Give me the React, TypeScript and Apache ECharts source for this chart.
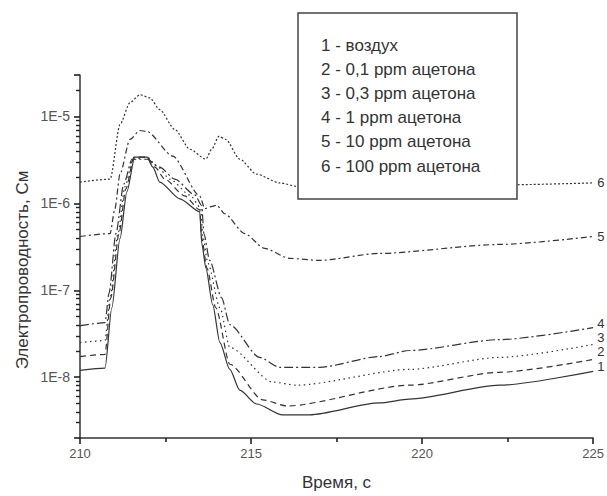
import React, { useEffect, useRef } from 'react';
import * as echarts from 'echarts';

const X_MIN = 210;
const X_MAX = 225;
const X_STEP = 5;
const Y_MIN = 2e-9;
const Y_MAX = 3e-5;

const xAxisTitle = 'Время, с';
const yAxisTitle = 'Электропроводность, См';

const xTickLabels = ['210', '215', '220', '225'];
const yTickExponents = [-8, -7, -6, -5];
const yTickLabels = ['1E-8', '1E-7', '1E-6', '1E-5'];

const curveNames = ['1', '2', '3', '4', '5', '6'];
const legendLabels = [
  '1 - воздух',
  '2 - 0,1 ppm ацетона',
  '3 - 0,3 ppm ацетона',
  '4 - 1 ppm ацетона',
  '5 - 10 ppm ацетона',
  '6 - 100 ppm ацетона',
];

// [time, conductance]
const curve1 = [
  [210.0, 1.2e-8], [210.73, 1.27e-8], [210.93, 6.3e-8], [211.17, 3.95e-7], [211.37, 1.36e-6],
  [211.6, 3.4e-6], [211.96, 3.4e-6], [212.13, 2.61e-6], [212.33, 1.76e-6], [212.92, 1.13e-6],
  [213.5, 8.0e-7], [213.56, 3.46e-7], [213.68, 1.8e-7], [213.88, 6.8e-8], [214.09, 2.5e-8],
  [214.38, 1.23e-8], [214.67, 7.1e-9], [215.16, 4.92e-9], [215.92, 3.69e-9], [216.71, 3.69e-9],
  [218.75, 5.06e-9], [219.63, 5.6e-9], [222.26, 8.1e-9], [225.0, 1.17e-8],
];
const curve2 = [
  [210.0, 1.73e-8], [210.73, 1.83e-8], [210.9, 8.2e-8], [211.14, 4.5e-7], [211.34, 1.47e-6],
  [211.58, 3.4e-6], [211.96, 3.4e-6], [212.19, 2.61e-6], [212.48, 1.9e-6], [213.06, 1.22e-6],
  [213.5, 8.45e-7], [213.56, 3.95e-7], [213.71, 1.8e-7], [213.97, 6.3e-8], [214.38, 1.41e-8],
  [215.34, 5.5e-9], [216.04, 4.67e-9], [219.63, 8.1e-9], [222.26, 1.14e-8], [225.0, 1.6e-8],
];
const curve3 = [
  [210.0, 2.51e-8], [210.73, 2.64e-8], [210.88, 8.2e-8], [211.11, 4.5e-7], [211.31, 1.55e-6],
  [211.55, 3.22e-6], [211.96, 3.4e-6], [212.25, 2.68e-6], [212.63, 1.9e-6], [213.21, 1.25e-6],
  [213.53, 8.9e-7], [213.59, 4.16e-7], [213.74, 2.05e-7], [214.09, 6.3e-8], [214.38, 2.2e-8],
  [215.63, 8.8e-9], [216.33, 8.1e-9], [219.63, 1.23e-8], [222.26, 1.69e-8], [225.0, 2.38e-8],
];
const curve4 = [
  [210.0, 3.92e-8], [210.73, 4.24e-8], [210.85, 9.3e-8], [211.05, 4.5e-7], [211.28, 1.67e-6],
  [211.52, 3.22e-6], [211.96, 3.22e-6], [212.33, 2.61e-6], [212.77, 1.9e-6], [213.36, 1.25e-6],
  [213.56, 9.4e-7], [213.62, 4.5e-7], [213.79, 2.21e-7], [214.14, 8.2e-8], [214.38, 4.02e-8],
  [215.25, 1.69e-8], [215.84, 1.3e-8], [217.0, 1.3e-8], [218.75, 1.73e-8], [219.63, 2.03e-8],
  [222.26, 2.71e-8], [225.0, 3.72e-8],
];
const curve5 = [
  [210.0, 4.16e-7], [210.88, 4.5e-7], [211.02, 8.7e-7], [211.17, 2.18e-6], [211.46, 5.45e-6],
  [211.75, 6.9e-6], [211.96, 6.7e-6], [212.71, 3.5e-6], [213.5, 1.22e-6], [213.65, 8.7e-7],
  [213.79, 9.1e-7], [214.0, 9.5e-7], [214.23, 7.6e-7], [214.81, 4.5e-7], [215.4, 3.03e-7],
  [216.13, 2.33e-7], [217.0, 2.21e-7], [218.75, 2.66e-7], [222.26, 3.37e-7], [225.0, 4.16e-7],
];
const curve6 = [
  [210.0, 1.76e-6], [210.88, 1.9e-6], [211.17, 8.1e-6], [211.46, 1.44e-5], [211.75, 1.78e-5],
  [212.04, 1.64e-5], [212.33, 1.2e-5], [212.77, 7.1e-6], [213.21, 4.2e-6], [213.68, 3.23e-6],
  [213.85, 4.2e-6], [214.06, 5.9e-6], [214.26, 5.45e-6], [214.67, 3.23e-6], [215.16, 2.17e-6],
  [215.84, 1.72e-6], [216.42, 1.55e-6], [219.34, 1.55e-6], [222.26, 1.63e-6], [225.0, 1.72e-6],
];

const curves = [curve1, curve2, curve3, curve4, curve5, curve6];

const FONT = '"Liberation Sans", Arial, Helvetica, sans-serif';
const INK = '#333333';

export default function App() {
  const ref = useRef<HTMLDivElement>(null);

  useEffect(() => {
    document.body.style.margin = '0';
    if (!ref.current) return;
    const chart = echarts.init(ref.current, undefined, { renderer: 'svg' });

    const lineTypes: any[] = ['solid', [6, 4], [1.5, 3.5], [9, 3, 2, 3], [6, 3, 2, 3], [2, 2]];
    const labelOffsets = [[0, -5], [0, -8], [0, -7], [0, -4], [0, 0], [0, 0]];

    const lineSeries = curves.map((c, i) => ({
      type: 'line',
      name: curveNames[i],
      data: c,
      showSymbol: false,
      symbol: 'none',
      smooth: 0.25,
      smoothMonotone: 'x',
      z: 3,
      lineStyle: { color: INK, width: 1.2, type: lineTypes[i], cap: 'butt' },
      endLabel: {
        show: true,
        formatter: curveNames[i],
        color: INK,
        fontFamily: FONT,
        fontSize: 13,
        lineHeight: 12,
        distance: 4,
        offset: labelOffsets[i],
      },
      labelLayout: { hideOverlap: false },
    }));

    const legendTexts = legendLabels.map((t, i) => ({
      type: 'text',
      x: 321,
      y: 45 + i * 24.2,
      z: 101,
      style: {
        text: t,
        fill: INK,
        font: `17px ${FONT}`,
        verticalAlign: 'middle',
        align: 'left',
      },
    }));

    chart.setOption({
      animation: false,
      backgroundColor: '#ffffff',
      grid: { left: 80, right: 13, top: 75, bottom: 54, containLabel: false },
      xAxis: {
        type: 'value',
        min: X_MIN,
        max: X_MAX,
        interval: X_STEP,
        name: xAxisTitle,
        nameLocation: 'middle',
        nameGap: 36,
        nameTextStyle: { color: INK, fontFamily: FONT, fontSize: 17 },
        axisLine: { show: true, lineStyle: { color: INK, width: 1.5 } },
        axisTick: { show: true, length: 6, lineStyle: { color: '#222', width: 1.6 } },
        minorTick: { show: true, splitNumber: 2, length: 4, lineStyle: { color: '#222', width: 1.6 } },
        axisLabel: {
          color: '#555',
          fontFamily: FONT,
          fontSize: 13,
          margin: 9,
          formatter: (v: number) => {
            const i = Math.round((v - X_MIN) / X_STEP);
            return xTickLabels[i] ?? '';
          },
        },
        splitLine: { show: false },
      },
      yAxis: {
        type: 'log',
        logBase: 10,
        min: Y_MIN,
        max: Y_MAX,
        axisLine: { show: true, lineStyle: { color: INK, width: 1.5 } },
        axisTick: { show: true, length: 6, lineStyle: { color: '#222', width: 1.6 } },
        minorTick: { show: true, splitNumber: 9, length: 4, lineStyle: { color: '#222', width: 1.4 } },
        axisLabel: {
          color: '#555',
          fontFamily: FONT,
          fontSize: 14,
          margin: 10,
          showMinLabel: false,
          showMaxLabel: false,
          formatter: (v: number) => {
            const lg = Math.log10(v);
            const e = Math.round(lg);
            const i = yTickExponents.indexOf(e);
            return i >= 0 && Math.abs(lg - e) < 1e-6 ? yTickLabels[i] : '';
          },
        },
        splitLine: { show: false },
        minorSplitLine: { show: false },
      },
      graphic: [
        {
          type: 'text',
          x: 22,
          y: 270,
          rotation: Math.PI / 2,
          style: {
            text: yAxisTitle,
            fill: INK,
            font: `17px ${FONT}`,
            align: 'center',
            verticalAlign: 'middle',
          },
        },
        {
          type: 'rect',
          z: 100,
          shape: { x: 298, y: 13, width: 219, height: 186 },
          style: { fill: '#ffffff', stroke: '#444', lineWidth: 1.5 },
        },
        ...legendTexts,
      ],
      series: lineSeries,
    });

    return () => chart.dispose();
  }, []);

  return <div ref={ref} style={{ position: 'absolute', left: 0, top: 0, width: 607, height: 496 }} />;
}
